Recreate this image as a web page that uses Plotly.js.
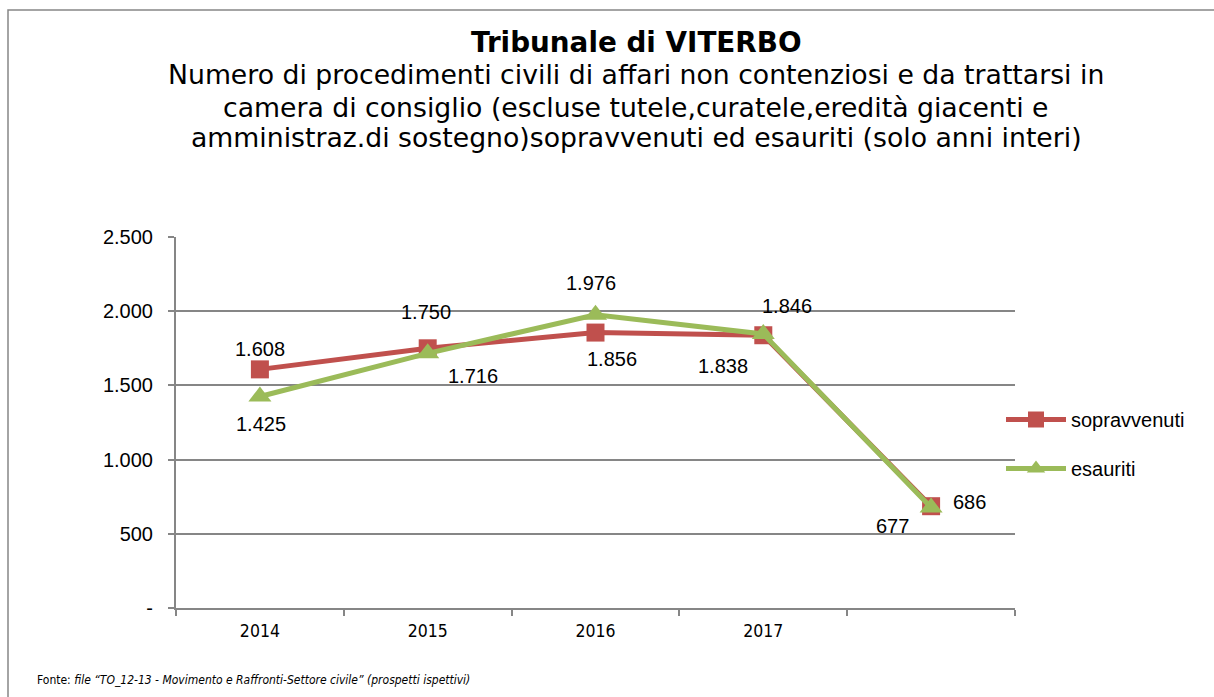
<!DOCTYPE html>
<html>
<head>
<meta charset="utf-8">
<script src="https://cdn.plot.ly/plotly-3.0.1.min.js"></script>
<style>
html,body{margin:0;padding:0;background:#fff;}
#chart{width:1214px;height:697px;}
</style>
</head>
<body>
<div id="chart"></div>
<script>
// ---- data ----
const categories = ['2014', '2015', '2016', '2017', ' '];
const sopravvenuti = [1608, 1750, 1856, 1838, 686];
const esauriti = [1425, 1716, 1976, 1846, 677];
const yTickVals = [0, 500, 1000, 1500, 2000, 2500];
const yTickText = ['-', '500', '1.000', '1.500', '2.000', '2.500'];
const titleMain = 'Tribunale di VITERBO';
const subtitleLines = [
  'Numero di procedimenti civili di affari non contenziosi e da trattarsi in',
  'camera di consiglio (escluse tutele,curatele,eredità giacenti e',
  'amministraz.di sostegno)sopravvenuti ed esauriti (solo anni interi)'
];
const footerPlain = 'Fonte: ';
const footerItalic = 'file “TO_12-13 - Movimento e Raffronti-Settore civile” (prospetti ispettivi)';

// ---- styling ----
const RED = '#C0504D', GREEN = '#9BBB59', GREY = '#868686';
const W = 1214, H = 697;
const L = 176, R = 1015, T = 237, B = 608;
const px2x = p => (p - L) / (R - L);
const px2y = p => (B - p) / (B - T);
// label offsets (pixels) per point
const offS = [[0, 20], [-2, 36], [16, -26], [-40, -31], [38, 4]];
const offE = [[1, -27], [45, -23], [-5, 32], [24, 28], [-39, -18]];

const fmt = v => v.toLocaleString('de-DE');
const labelFont = {family: 'Liberation Sans, Arial, sans-serif', size: 20, color: '#000'};
const narrowFam = 'Liberation Sans Narrow, Arial Narrow, DejaVu Sans Condensed, sans-serif';

const annotations = [];
function addLabels(vals, offs) {
  vals.forEach((v, i) => {
    annotations.push({
      x: i, y: v, xref: 'x', yref: 'y', text: fmt(v), showarrow: false,
      xshift: offs[i][0], yshift: offs[i][1], font: labelFont
    });
  });
}
addLabels(sopravvenuti, offS);
addLabels(esauriti, offE);

const subY = [75, 107, 138];
subtitleLines.forEach((t, i) => {
  annotations.push({
    xref: 'paper', yref: 'paper', x: px2x(636), y: px2y(subY[i]), xanchor: 'center', yanchor: 'middle',
    text: t, showarrow: false, font: {family: 'DejaVu Sans, Verdana, sans-serif', size: 26.7, color: '#000'}
  });
});
annotations.push({
  xref: 'paper', yref: 'paper', x: px2x(636), y: px2y(42), xanchor: 'center', yanchor: 'middle',
  text: '<b>' + titleMain + '</b>', showarrow: false,
  font: {family: 'DejaVu Sans, Verdana, sans-serif', size: 27.8, color: '#000'}
});
annotations.push({
  xref: 'paper', yref: 'paper', x: px2x(35), y: px2y(680), xanchor: 'left', yanchor: 'middle',
  text: footerPlain + '<i>' + footerItalic + '</i>', showarrow: false,
  font: {family: narrowFam, size: 12, color: '#000'}
});

const traces = [
  {
    x: categories, y: sopravvenuti, name: 'sopravvenuti', type: 'scatter', mode: 'lines+markers',
    line: {color: RED, width: 5}, marker: {symbol: 'square', size: 18, color: RED},
    legendgroup: 'a'
  },
  {
    x: categories, y: esauriti, name: 'esauriti', type: 'scatter', mode: 'lines+markers',
    line: {color: GREEN, width: 5}, marker: {symbol: 'triangle-up', size: 20, color: GREEN},
    legendgroup: 'b'
  }
];

const layout = {
  width: W, height: H,
  margin: {l: L, r: W - R, t: T, b: H - B, pad: 0},
  paper_bgcolor: '#fff', plot_bgcolor: '#fff',
  showlegend: true,
  legend: {
    x: px2x(1001), y: px2y(444), xanchor: 'left', yanchor: 'middle',
    font: {family: 'Liberation Sans, Arial, sans-serif', size: 20, color: '#000'},
    tracegroupgap: 20, itemwidth: 60, bgcolor: 'rgba(0,0,0,0)'
  },
  xaxis: {
    type: 'category', categoryorder: 'array', categoryarray: categories,
    range: [-0.5, 4.5], tickson: 'boundaries', ticks: 'outside', ticklen: 6, tickcolor: GREY, tickwidth: 2,
    showline: true, linecolor: GREY, linewidth: 2, showgrid: false, zeroline: false,
    ticklabelstandoff: 6,
    tickfont: {family: narrowFam, size: 17.5, color: '#000'},
    fixedrange: true
  },
  yaxis: {
    range: [0, 2500], tickvals: yTickVals, ticktext: yTickText,
    ticks: 'outside', ticklen: 6, tickcolor: GREY, tickwidth: 2,
    showline: true, linecolor: GREY, linewidth: 2, showgrid: true, gridcolor: GREY, gridwidth: 2,
    zeroline: false, ticklabelstandoff: 11,
    tickfont: labelFont, fixedrange: true
  },
  annotations: annotations,
  shapes: [{
    type: 'rect', xref: 'paper', yref: 'paper', x0: px2x(8), x1: px2x(1300), y0: px2y(760), y1: px2y(10),
    line: {color: GREY, width: 1.5}, fillcolor: 'rgba(0,0,0,0)', layer: 'below'
  }]
};

Plotly.newPlot('chart', traces, layout, {displayModeBar: false, staticPlot: true});
</script>
</body>
</html>
